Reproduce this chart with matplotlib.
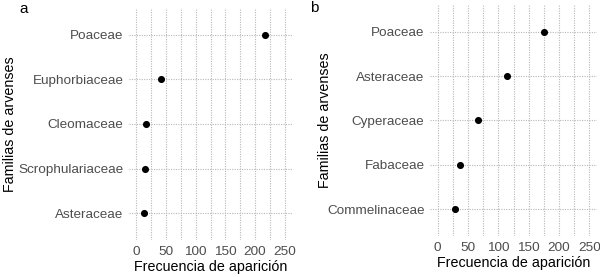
import matplotlib
matplotlib.use("Agg")
import matplotlib.pyplot as plt

plt.rcParams['font.family'] = ['Liberation Sans', 'DejaVu Sans']

fam_a = ["Asteraceae", "Scrophulariaceae", "Cleomaceae", "Euphorbiaceae", "Poaceae"]
val_a = [12, 14, 16, 42, 217]
fam_b = ["Commelinaceae", "Fabaceae", "Cyperaceae", "Asteraceae", "Poaceae"]
val_b = [28, 37, 67, 114, 176]
xticks = [0, 50, 100, 150, 200, 250]
xlabel = "Frecuencia de aparición"
ylabel = "Familias de arvenses"

W, H = 600, 277
fig = plt.figure(figsize=(W/100, H/100), dpi=100)

def px_axes(l, t, r, b):
    return fig.add_axes([l/W, 1 - b/H, (r-l)/W, (b-t)/H])

def draw(ax, fams, vals, ylab_x):
    y = list(range(len(fams)))
    ax.set_xlim(-12.5, 262.5)
    ax.set_ylim(-0.6, len(fams) - 0.4)
    for s in ax.spines.values():
        s.set_visible(False)
    gridkw = dict(color='#B8B8B8', linestyle=(0, (1, 1.2)), linewidth=0.8)
    for xv in range(0, 251, 25):
        ax.axvline(xv, zorder=0, **gridkw)
    for yv in y:
        ax.axhline(yv, zorder=0, **gridkw)
    ax.scatter(vals, y, s=26, color='black', zorder=3, linewidths=0)
    ax.set_xticks(xticks)
    ax.set_yticks(y)
    ax.set_yticklabels(fams)
    ax.tick_params(length=0, labelsize=9.7, labelcolor='#4D4D4D', pad=4)
    ax.set_xlabel(xlabel, fontsize=10.3, labelpad=2)
    ax.set_ylabel(ylabel, fontsize=10.3)
    ax.yaxis.set_label_coords(ylab_x, 0.5)

ax1 = px_axes(129, 8, 292, 240)
draw(ax1, fam_a, val_a, (17 - 129) / 163)
ax2 = px_axes(430, 5, 597, 236)
draw(ax2, fam_b, val_b, (332 - 430) / 167)

fig.text(19/W, 1 - 9/H, "a", fontsize=11, va='center', ha='left')
fig.text(310/W, 1 - 8/H, "b", fontsize=11, va='center', ha='left')

fig.savefig("out.png", dpi=100, facecolor='white')
